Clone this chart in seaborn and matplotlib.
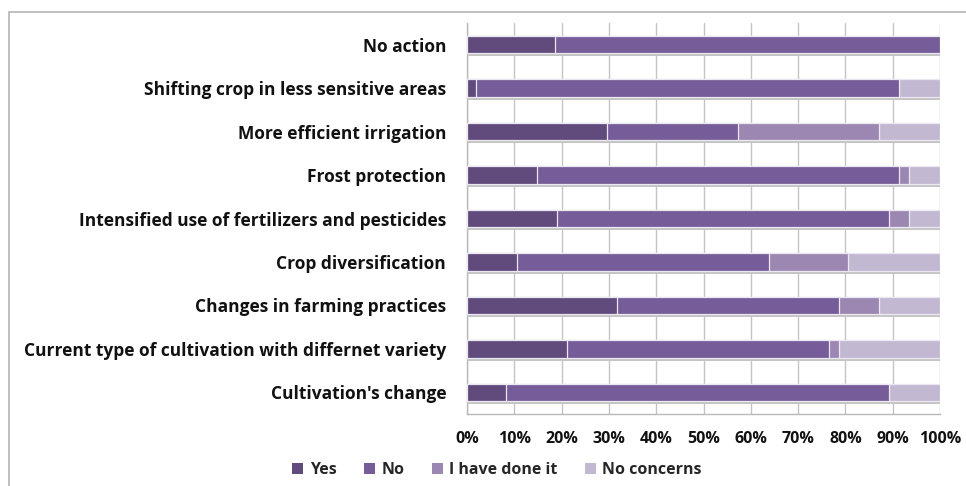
import matplotlib
matplotlib.use("Agg")
import matplotlib.pyplot as plt
import matplotlib.patheffects as pe
from matplotlib.patches import Patch, Rectangle
import seaborn as sns
import pandas as pd
import numpy as np

categories = [
    "No action",
    "Shifting crop in less sensitive areas",
    "More efficient irrigation",
    "Frost protection",
    "Intensified use of fertilizers and pesticides",
    "Crop diversification",
    "Changes in farming practices",
    "Current type of cultivation with differnet variety",
    "Cultivation's change",
]
yes = [18.5, 2.0, 29.7, 14.8, 19.0, 10.5, 31.8, 21.2, 8.3]
no = [81.5, 89.3, 27.6, 76.5, 70.2, 53.3, 46.9, 55.4, 80.9]
done = [0.0, 0.0, 29.9, 2.1, 4.2, 16.8, 8.5, 2.1, 0.0]
no_concerns = [0.0, 8.7, 12.8, 6.6, 6.6, 19.4, 12.8, 21.3, 10.8]

series_names = ["Yes", "No", "I have done it", "No concerns"]
series_colors = ["#604b7c", "#765c98", "#9b87b2", "#c3b8d1"]
xtick_labels = [f"{v}%" for v in range(0, 101, 10)]

df = pd.DataFrame({"category": categories, "Yes": yes, "No": no,
                   "I have done it": done, "No concerns": no_concerns})
vals = df[series_names].to_numpy()
totals = vals.sum(axis=1, keepdims=True)
frac = vals / totals
cum = np.cumsum(frac, axis=1)

sns.set_theme(style="white")
FONT = ["Open Sans", "DejaVu Sans"]
plt.rcParams["font.family"] = FONT

fig = plt.figure(figsize=(9.66, 4.86), dpi=100)
ax = fig.add_axes([467 / 966, 1 - 414 / 486, 473 / 966, 391 / 486])

shadow = [pe.SimplePatchShadow(offset=(0, -2.2), shadow_rgbFace="#c4c4c4", alpha=1.0), pe.Normal()]

for i in range(len(series_names) - 1, -1, -1):
    layer = pd.DataFrame({"category": categories, "value": cum[:, i]})
    sns.barplot(data=layer, y="category", x="value", orient="h", color=series_colors[i],
                width=0.4, edgecolor="#ece8f2", linewidth=0.9, saturation=1, ax=ax, zorder=3)

for p in ax.patches:
    p.set_path_effects(shadow)

ax.set_xlim(0, 1)
ax.set_ylim(len(categories) - 0.5, -0.5)
ax.set_xticks(np.linspace(0, 1, 11))
ax.set_xticklabels(xtick_labels, fontsize=11.5, fontweight="bold", color="#111111")
ax.set_yticks(range(len(categories)))
ax.set_yticklabels(categories, fontsize=12.5, fontweight="bold", color="#111111")
ax.set_yticks(np.arange(-0.5, len(categories)), minor=True)
ax.tick_params(axis="y", which="major", length=0, pad=15)
ax.tick_params(axis="y", which="minor", length=7, width=1, color="#b8b8b8", direction="out")
ax.tick_params(axis="x", which="major", length=5, width=1, color="#b8b8b8", direction="out", pad=7)
ax.set_xlabel("")
ax.set_ylabel("")
ax.grid(axis="x", color="#c4c4c4", linewidth=1.0, zorder=0)
ax.set_axisbelow(True)
for s in ["top", "right"]:
    ax.spines[s].set_visible(False)
for s in ["left", "bottom"]:
    ax.spines[s].set_color("#b8b8b8")
    ax.spines[s].set_linewidth(1.0)

handles = [Patch(facecolor=c, edgecolor="none") for c in series_colors]
fig.legend(handles, series_names, loc="center", bbox_to_anchor=(497 / 966, 1 - 470 / 486),
           ncol=4, frameon=False, handlelength=0.7, handleheight=0.7, handletextpad=0.4,
           columnspacing=1.7, prop={"family": FONT, "weight": "bold", "size": 11.5})

fig.patches.append(Rectangle((9 / 966, -0.1), 1.2, 1 - 12 / 486 + 0.1, transform=fig.transFigure,
                             fill=False, edgecolor="#b4b4b4", linewidth=1.2, zorder=0))

fig.savefig("out.png", dpi=100)
